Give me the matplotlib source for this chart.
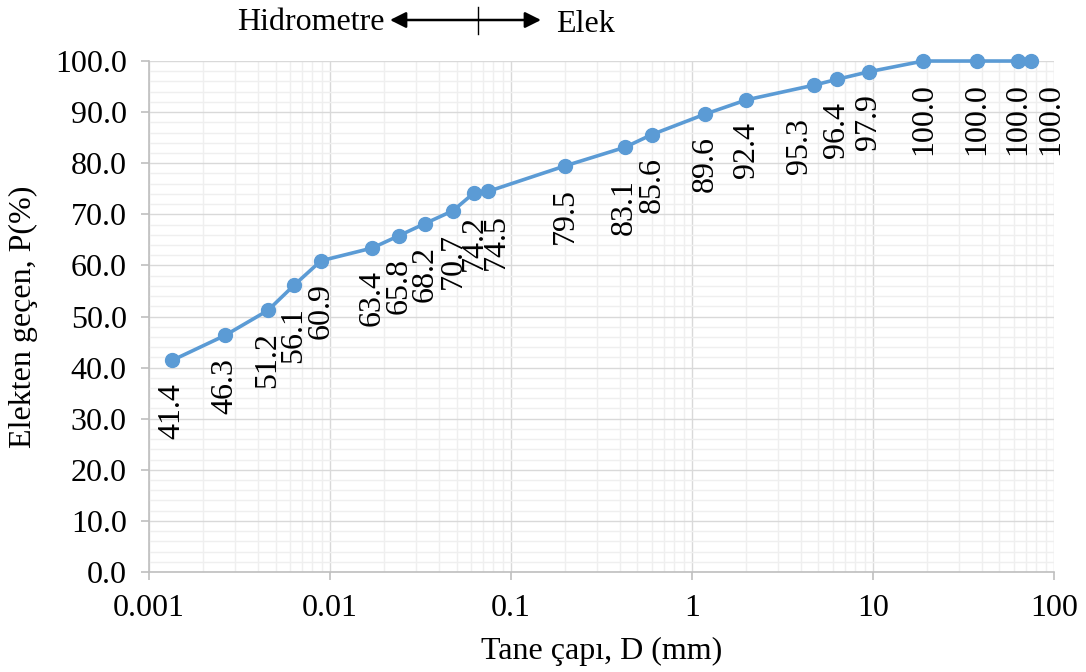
import numpy as np
import matplotlib
matplotlib.use("Agg")
from matplotlib import pyplot as plt
from matplotlib.ticker import LogLocator, MultipleLocator, FixedLocator, FixedFormatter

# grain size (mm) and percent passing
diameter = [0.00134, 0.00263, 0.00454, 0.00632, 0.00891, 0.0171, 0.0240, 0.0335,
            0.0478, 0.0625, 0.075, 0.2, 0.425, 0.6, 1.18, 2.0, 4.75, 6.3, 9.5,
            19.0, 37.5, 63.0, 75.0]
passing = [41.4, 46.3, 51.2, 56.1, 60.9, 63.4, 65.8, 68.2, 70.7, 74.2, 74.5, 79.5,
           83.1, 85.6, 89.6, 92.4, 95.3, 96.4, 97.9, 100.0, 100.0, 100.0, 100.0]

xticks = [0.001, 0.01, 0.1, 1, 10, 100]
xticklabels = ["0.001", "0.01", "0.1", "1", "10", "100"]

plt.rcParams['font.family'] = ['Liberation Serif', 'DejaVu Serif']
FS = 23

fig = plt.figure(figsize=(10.86, 6.72), dpi=100)
ax = fig.add_axes([0.1372, 0.1488, 0.9705 - 0.1372, 0.9092 - 0.1488])

ax.set_xscale('log')
ax.set_xlim(0.001, 100)
ax.set_ylim(0, 100)

ax.xaxis.set_major_locator(FixedLocator(xticks))
ax.xaxis.set_major_formatter(FixedFormatter(xticklabels))
ax.xaxis.set_minor_locator(LogLocator(base=10, subs=np.arange(2, 10)))
ax.xaxis.set_minor_formatter(plt.NullFormatter())
ax.yaxis.set_major_locator(MultipleLocator(10))
ax.yaxis.set_minor_locator(MultipleLocator(2))
ax.yaxis.set_major_formatter(plt.FuncFormatter(lambda v, p: "%.1f" % v))

ax.grid(which='minor', color='#efefef', lw=1.0)
ax.grid(which='major', color='#d9d9d9', lw=1.0)
ax.set_axisbelow(True)

for s in ['top', 'right']:
    ax.spines[s].set_visible(False)
for s in ['left', 'bottom']:
    ax.spines[s].set_color('#bfbfbf')
    ax.spines[s].set_linewidth(1.2)

ax.tick_params(which='major', length=6, color='#bfbfbf', width=1.2, labelsize=FS)
ax.tick_params(axis='y', pad=10)
ax.tick_params(axis='x', pad=10)
ax.tick_params(which='minor', length=0)

ax.plot(diameter, passing, color='#5B9BD5', lw=2.6, marker='o', ms=10,
        clip_on=False, zorder=3)

# labels that Excel nudged to avoid collisions (index: dx, dy in points)
nudge = {10: (6, 0), 12: (0, -7), 16: (-11, -8), 22: (14, 0)}
for i, (d, p) in enumerate(zip(diameter, passing)):
    dx, dy = nudge.get(i, (0, 0))
    ax.annotate("%.1f" % p, (d, p), xytext=(dx, -16 + dy), textcoords='offset points',
                rotation=90, ha='center', va='top', fontsize=FS, color='black',
                annotation_clip=False)

ax.set_xlabel("Tane çapı, D (mm)", fontsize=FS, labelpad=10)
ax.set_ylabel("Elekten geçen, P(%)", fontsize=FS, labelpad=12)

# hydrometer / sieve divider arrow
fig.text(385 / 1086, 1 - 22 / 672, "Hidrometre", ha='right', va='center', fontsize=FS)
fig.text(556 / 1086, 1 - 24 / 672, "Elek", ha='left', va='center', fontsize=FS)
ax.annotate("", xy=(390 / 1086, 1 - 20 / 672), xytext=(541 / 1086, 1 - 20 / 672),
            xycoords='figure fraction', textcoords='figure fraction',
            arrowprops=dict(arrowstyle='<|-|>', color='black', lw=1.8,
                            mutation_scale=24, shrinkA=0, shrinkB=0))
fig.add_artist(plt.Line2D([478 / 1086, 478 / 1086], [1 - 7 / 672, 1 - 34 / 672],
                          transform=fig.transFigure, color='black', lw=1.0))

fig.savefig("out.png", dpi=100)
